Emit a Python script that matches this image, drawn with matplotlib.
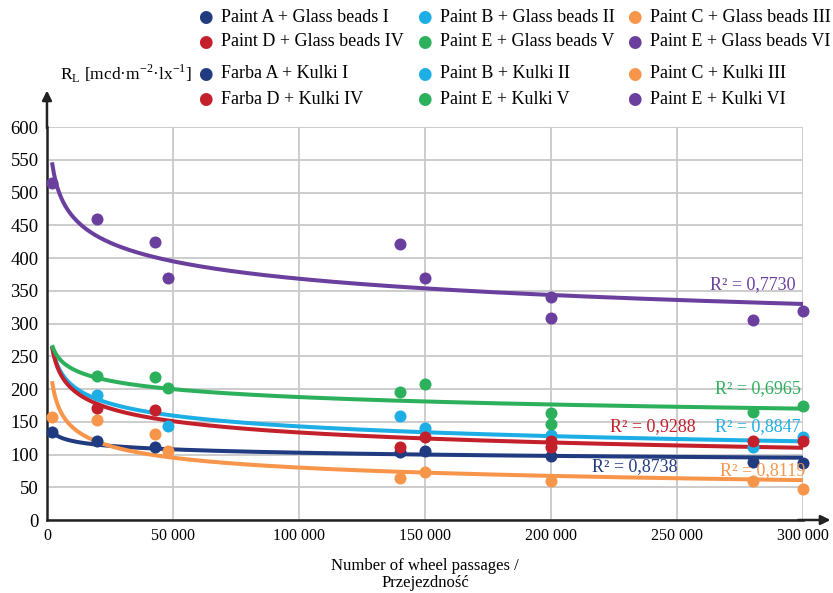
import numpy as np
import matplotlib
matplotlib.use("Agg")
import matplotlib.pyplot as plt

plt.rcParams['font.family'] = ['Liberation Serif', 'DejaVu Serif']
plt.rcParams['mathtext.fontset'] = 'custom'
plt.rcParams['mathtext.rm'] = 'Liberation Serif'

# measured points (x = wheel passages, y = RL)
x_A = [2000, 20000, 43000, 140000, 150000, 200000, 280000, 300000]
y_A = [135, 120, 111, 104, 106, 97, 89, 87]
x_B = [20000, 48000, 140000, 150000, 200000, 280000, 300000]
y_B = [191, 143, 159, 141, 130, 112, 126]
x_C = [2000, 20000, 43000, 48000, 140000, 150000, 200000, 280000, 300000]
y_C = [157, 153, 132, 105, 64, 74, 60, 60, 48]
x_D = [20000, 43000, 140000, 150000, 200000, 200000, 280000, 300000]
y_D = [171, 168, 112, 126, 120, 111, 121, 120]
x_E5 = [20000, 43000, 48000, 140000, 150000, 200000, 200000, 280000, 300000]
y_E5 = [220, 218, 201, 196, 207, 164, 146, 165, 174]
x_E6 = [2000, 20000, 43000, 48000, 140000, 150000, 200000, 200000, 280000, 300000]
y_E6 = [515, 459, 425, 370, 422, 369, 340, 309, 306, 319]

# power trend lines y = a * x^b
trend_a = [230, 881, 1407, 1002, 529, 1173]
trend_b = [-0.070, -0.158, -0.249, -0.175, -0.090, -0.1006]
r2_text = ['R² = 0,8738', 'R² = 0,8847', 'R² = 0,8119', 'R² = 0,9288', 'R² = 0,6965', 'R² = 0,7730']
r2_pos = [(250000, 81), (299000, 142), (301000, 76), (257500, 142), (299000, 200), (297000, 360)]

farby = ['#213B80', '#1DAEE5', '#F7964B', '#C3202B', '#2DB05B', '#6A3F9E']
serie_x = [x_A, x_B, x_C, x_D, x_E5, x_E6]
serie_y = [y_A, y_B, y_C, y_D, y_E5, y_E6]

legenda = ['Paint A + Glass beads I', 'Paint B + Glass beads II', 'Paint C + Glass beads III',
           'Paint D + Glass beads IV', 'Paint E + Glass beads V', 'Paint E + Glass beads VI',
           'Farba A + Kulki I', 'Paint B + Kulki II', 'Paint C + Kulki III',
           'Farba D + Kulki IV', 'Paint E + Kulki V', 'Paint E + Kulki VI']
leg_farby = farby * 2

fig = plt.figure(figsize=(8.33, 5.93), dpi=100)
ax = fig.add_axes([0.0564, 0.1231, 0.9076, 0.6627])

for i in range(6):
    xs = np.linspace(2000, 300000, 400)
    ax.plot(xs, trend_a[i] * xs ** trend_b[i], color=farby[i], lw=2.9, zorder=3,
            clip_on=False, solid_capstyle='butt')
for i in range(6):
    ax.scatter(serie_x[i], serie_y[i], s=75, color=farby[i], zorder=4, linewidths=0,
               clip_on=False)
for i in range(6):
    ax.text(r2_pos[i][0], r2_pos[i][1], r2_text[i], color=farby[i], fontsize=13,
            ha='right', va='center', zorder=5)

ax.set_xlim(0, 300000)
ax.set_ylim(0, 600)
ax.set_xticks(range(0, 300001, 50000))
ax.set_xticklabels(['0', '50 000', '100 000', '150 000', '200 000', '250 000', '300 000'], fontsize=11.5)
ax.set_yticks(range(0, 601, 50))
ax.set_yticklabels([str(v) for v in range(0, 601, 50)], fontsize=13.5)
ax.tick_params(length=0, pad=6)
ax.grid(True, color='#c8c8c8', lw=1.3)
ax.set_axisbelow(True)
for s in ['top', 'right']:
    ax.spines[s].set_visible(False)
ax.spines['left'].set_linewidth(1.8)
ax.spines['bottom'].set_linewidth(1.8)
ax.spines['left'].set_color('#222222')
ax.spines['bottom'].set_color('#222222')

# strzalki osi
ax.annotate('', xy=(0, 1.1), xytext=(0, 0.99), xycoords='axes fraction',
            arrowprops=dict(arrowstyle='-|>', color='#222222', lw=1.8, mutation_scale=14))
ax.annotate('', xy=(1.04, 0), xytext=(0.99, 0), xycoords='axes fraction',
            arrowprops=dict(arrowstyle='-|>', color='#222222', lw=1.8, mutation_scale=14))

fig.text(0.072, 1 - 74 / 593, r'R$_\mathregular{L}$ [mcd·m$^{\mathregular{-2}}$·lx$^{\mathregular{-1}}$]',
         fontsize=12.5, va='center', ha='left')
ax.set_xlabel('Number of wheel passages /\nPrzejezdność', fontsize=12, labelpad=10, linespacing=1.1)

# legenda recznie, 4 wiersze x 3 kolumny
kol_x = [205, 424, 634]
wiersz_y = [17, 42, 74, 99]
for k in range(12):
    r, c = divmod(k, 3)
    px = kol_x[c] / 833
    py = 1 - wiersz_y[r] / 593
    fig.text(px, py, '●', color=leg_farby[k], fontsize=12, ha='center', va='center',
             family=['DejaVu Sans'])
    fig.text(px + 16 / 833, py, legenda[k], fontsize=13, ha='left', va='center')

fig.savefig('out.png', dpi=100)
